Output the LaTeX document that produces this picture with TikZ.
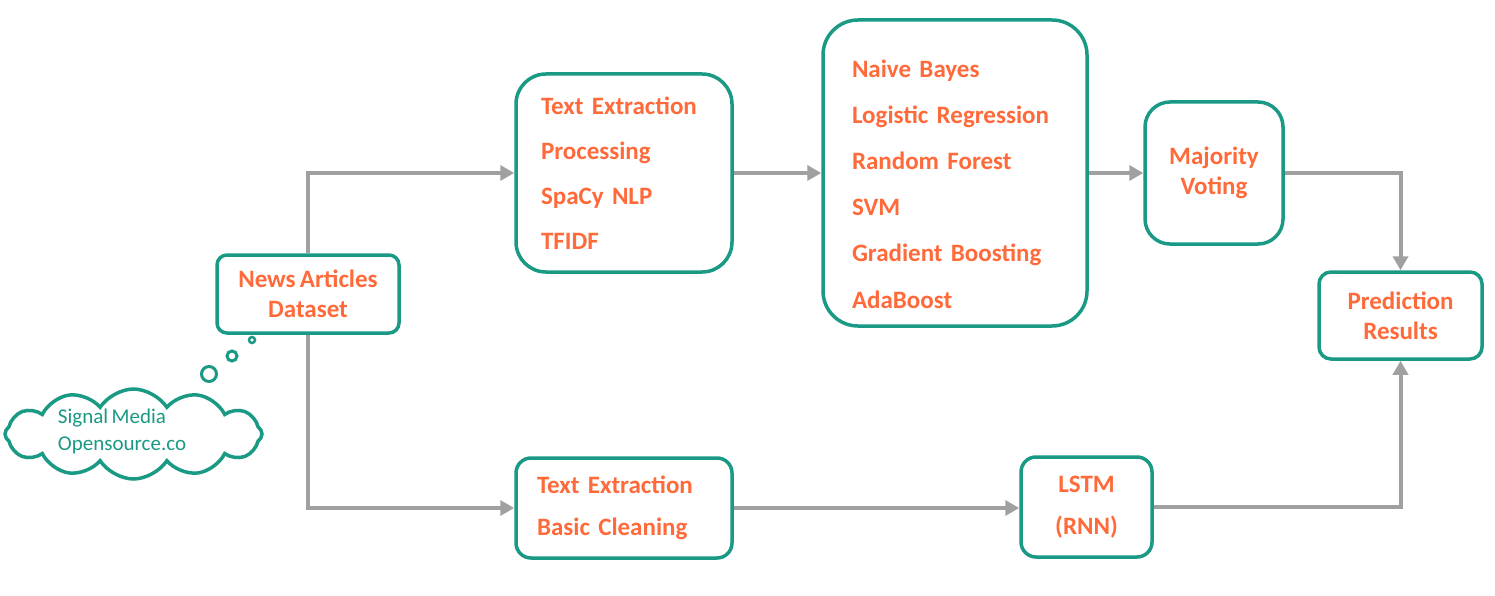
\documentclass[tikz,border=0pt]{standalone}
\usepackage{fontspec}
\setmainfont{Carlito}[WordSpace=0.75]
\usetikzlibrary{arrows.meta,shapes.symbols}
\definecolor{teal}{RGB}{26,154,133}
\definecolor{orng}{RGB}{255,106,58}
\definecolor{conn}{RGB}{160,160,160}
\begin{document}
\begin{tikzpicture}[x=1pt,y=-1pt,
  box/.style={draw=teal,line width=3.5pt,fill=white,text=orng,inner ysep=0pt},
  conn/.style={draw=conn,line width=4pt,-{Triangle[length=14pt,width=15pt]}},
  plain/.style={draw=conn,line width=4pt}]
\useasboundingbox[fill=white] (0,0) rectangle (1495,596);

\node[box,rounded corners=10pt,minimum width=182pt,minimum height=78pt,align=center,
  font=\fontsize{25}{30}\selectfont\bfseries] (data) at (308,294) {News Articles\\Dataset};

\node[box,rounded corners=30pt,text width=166pt,inner xsep=25pt,minimum height=198pt,align=left,
  font=\fontsize{25}{45}\selectfont\bfseries] (proc) at (624,173) {Text Extraction\\Processing\\SpaCy NLP\\TFIDF};

\node[box,rounded corners=35pt,minimum width=264pt,minimum height=306pt] (models) at (955,173) {};
\node[text=orng,text width=206pt,align=left,inner sep=0pt,font=\fontsize{25}{46.2}\selectfont\bfseries]
  (modtext) at ([yshift=-11pt]models.center) {Naive Bayes\\Logistic Regression\\Random Forest\\SVM\\Gradient Boosting\\AdaBoost};

\node[box,rounded corners=25pt,minimum width=138pt,minimum height=142pt,align=center,
  font=\fontsize{25}{30}\selectfont\bfseries] (vote) at (1214,173) {Majority\\Voting};

\node[box,rounded corners=12pt,minimum width=163pt,minimum height=87pt,align=center,
  font=\fontsize{25}{30}\selectfont\bfseries] (pred) at (1400.5,315.5) {Prediction\\Results};

\node[box,rounded corners=15pt,text width=174pt,inner xsep=21pt,minimum height=100pt,align=left,
  font=\fontsize{25}{42}\selectfont\bfseries] (clean) at (624,508) {Text Extraction\\Basic Cleaning};

\node[box,rounded corners=15pt,minimum width=131pt,minimum height=100pt,align=center,
  font=\fontsize{25}{42}\selectfont\bfseries] (lstm) at (1086.5,507) {LSTM\\(RNN)};

\node[cloud,cloud puffs=12,cloud puff arc=115,aspect=2.9,draw=teal,line width=3.5pt,fill=white,
  minimum width=257pt,minimum height=90pt] (cloud) at (133.5,434) {};
\node[text=teal,align=left,inner sep=0pt,font=\fontsize{21}{27}\selectfont] (cloudtext) at (122,431) {Signal Media\\Opensource.co};
\node[circle,draw=teal,line width=3pt,minimum size=15pt,inner sep=0pt] (b1) at (209,374) {};
\node[circle,draw=teal,line width=3pt,minimum size=10pt,inner sep=0pt] (b2) at (232,356) {};
\node[circle,draw=teal,line width=2.5pt,minimum size=6pt,inner sep=0pt] (b3) at (252,340) {};

\draw[conn] (data.north) |- (proc.west);
\draw[conn] (data.south) |- (clean.west);
\draw[conn] (proc.east) -- (models.west |- proc.east);
\draw[conn] (models.east |- vote.west) -- (vote.west);
\draw[conn] (vote.east) -| (pred.north);
\draw[conn] (clean.east) -- (lstm.west |- clean.east);
\draw[conn] (lstm.east) -| (pred.south);
\end{tikzpicture}
\end{document}
